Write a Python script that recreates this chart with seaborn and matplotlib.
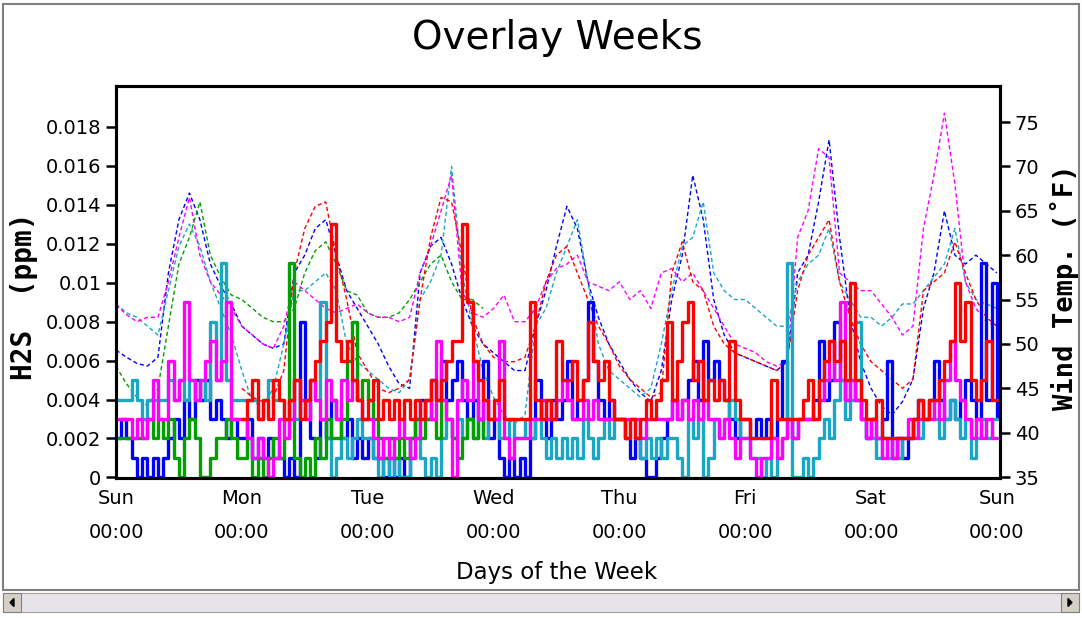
import numpy as np
import pandas as pd
import matplotlib
matplotlib.use("Agg")
import matplotlib.pyplot as plt
import seaborn as sns
from matplotlib.patches import Rectangle, Polygon

# ---- axis labels / ticks ----
day_ticks = [0, 24, 48, 72, 96, 120, 144, 168]
day_labels = ["Sun\n00:00", "Mon\n00:00", "Tue\n00:00", "Wed\n00:00",
              "Thu\n00:00", "Fri\n00:00", "Sat\n00:00", "Sun\n00:00"]
h2s_ticks = [0, 0.002, 0.004, 0.006, 0.008, 0.01, 0.012, 0.014, 0.016, 0.018]
h2s_labels = ["0", "0.002", "0.004", "0.006", "0.008", "0.01", "0.012",
              "0.014", "0.016", "0.018"]
temp_ticks = [35, 40, 45, 50, 55, 60, 65, 70, 75]

# ---- H2S, hourly, in thousandths of ppm ----
h2s_blue = [2, 3, 2, 1, 0, 1, 0, 1, 0, 1, 2, 3, 2, 4, 3, 5, 4, 5, 3, 4, 3, 2, 3, 2,
            2, 3, 1, 2, 1, 2, 1, 1, 0, 1, 0, 8, 4, 2, 1, 3, 2, 4, 3, 2, 3, 1, 2, 1,
            2, 1, 1, 0, 1, 0, 1, 0, 2, 3, 4, 3, 5, 4, 6, 4, 5, 6, 4, 3, 4, 3, 6, 2,
            3, 1, 0, 1, 0, 1, 0, 2, 5, 3, 2, 4, 3, 4, 6, 3, 4, 5, 9, 6, 4, 3, 4, 3,
            3, 2, 1, 2, 1, 0, 0, 1, 2, 3, 4, 3, 4, 5, 6, 4, 7, 5, 6, 5, 4, 3, 2, 3,
            3, 2, 3, 2, 3, 2, 3, 6, 3, 2, 3, 3, 3, 4, 7, 4, 5, 8, 5, 4, 5, 4, 3, 2,
            3, 2, 3, 6, 1, 2, 1, 2, 3, 4, 3, 4, 6, 4, 3, 4, 3, 4, 5, 4, 3, 11, 4, 10,
            3]
h2s_cyan = [4, 4, 4, 5, 4, 3, 4, 4, 4, 4, 5, 4, 5, 4, 5, 4, 5, 4, 8, 5, 11, 5, 4, 4,
            4, 4, 4, 3, 4, 5, 4, 4, 3, 4, 3, 4, 3, 5, 4, 9, 2, 0, 1, 2, 1, 2, 3, 2,
            2, 1, 0, 1, 0, 1, 0, 0, 1, 2, 1, 0, 1, 0, 2, 3, 2, 3, 2, 3, 2, 3, 2, 3,
            3, 2, 2, 3, 2, 2, 3, 2, 3, 2, 1, 2, 1, 2, 1, 2, 1, 3, 2, 1, 2, 3, 2, 3,
            3, 2, 3, 2, 1, 2, 1, 2, 1, 2, 2, 1, 0, 3, 2, 3, 0, 1, 3, 2, 3, 4, 3, 2,
            2, 1, 1, 0, 1, 0, 1, 2, 11, 0, 0, 1, 0, 1, 2, 3, 2, 4, 5, 3, 4, 8, 3, 2,
            2, 1, 2, 1, 2, 1, 2, 2, 3, 2, 3, 4, 3, 2, 3, 4, 3, 2, 3, 1, 2, 3, 2, 3,
            3]
h2s_green = [2, 2, 2, 2, 2, 2, 3, 2, 3, 2, 3, 1, 0, 2, 3, 2, 0, 0, 1, 2, 2, 3, 2, 1,
             1, 2, 0, 1, 0, 1, 2, 1, 2, 11, 1, 0, 1, 0, 2, 1, 3, 2, 2, 3, 6, 8, 4, 5,
             4, 3, 2, 1, 2, 1, 2, 1, 2, 3, 2, 3, 3, 2, 4, 3, 2, 1, 2, 3, 2, 3, 2]
h2s_magenta = [3, 3, 3, 2, 3, 2, 3, 5, 3, 3, 6, 4, 5, 9, 5, 4, 5, 6, 7, 5, 6, 9, 3, 3,
               3, 2, 1, 2, 1, 0, 1, 3, 2, 3, 5, 4, 3, 5, 4, 3, 5, 4, 3, 5, 4, 5, 4, 3,
               3, 2, 1, 2, 1, 2, 3, 2, 1, 2, 3, 4, 3, 7, 4, 3, 0, 4, 5, 4, 6, 3, 4, 3,
               3, 7, 2, 1, 2, 2, 2, 3, 3, 4, 3, 3, 4, 5, 4, 3, 3, 4, 3, 4, 3, 3, 3, 3,
               3, 3, 3, 3, 2, 3, 3, 3, 3, 3, 4, 3, 4, 3, 4, 3, 4, 3, 3, 2, 3, 2, 1, 2,
               2, 1, 0, 1, 1, 2, 1, 2, 3, 2, 3, 3, 3, 3, 4, 5, 7, 5, 9, 4, 5, 4, 3, 2,
               3, 2, 1, 2, 1, 2, 2, 3, 2, 3, 3, 3, 4, 3, 5, 7, 5, 4, 3, 2, 3, 2, 3, 2,
               2]
h2s_red = [3, 4, 5, 3, 4, 3, 5, 4, 3, 4, 5, 3, 4, 5, 6, 7, 8, 13, 7, 6, 7, 5, 4, 3,
           4, 5, 3, 4, 3, 4, 3, 4, 3, 4, 3, 4, 5, 4, 5, 6, 7, 7, 13, 9, 6, 5, 4, 3,
           4, 5, 3, 3, 3, 3, 3, 9, 4, 3, 4, 3, 7, 5, 5, 6, 4, 5, 8, 6, 5, 6, 4, 3,
           3, 2, 3, 2, 3, 4, 3, 4, 5, 8, 4, 6, 8, 9, 5, 6, 4, 5, 4, 5, 4, 7, 4, 3,
           3, 2, 2, 2, 2, 5, 3, 3, 3, 3, 3, 4, 5, 3, 5, 6, 7, 6, 7, 5, 10, 5, 4, 3,
           3, 4, 2, 2, 2, 2, 2, 2, 3, 4, 3, 4, 4, 5, 6, 7, 10, 7, 9, 5, 4, 5, 7, 4,
           4]

# ---- wind temperature (F), every 2 hours ----
temp_blue = [49.3, 48.5, 47.8, 47.5, 48.5, 58, 64, 67, 64, 59, 56.5, 54.5,
             52, 51, 50, 49.5, 50, 58, 60, 63, 64, 60, 56, 54,
             52, 50, 47.5, 45.5, 45, 58, 61, 62, 59, 55, 52, 50,
             49, 48, 47, 47, 52, 56, 61, 65.5, 63, 57, 53, 50,
             48, 46, 44.5, 43.5, 47, 55, 60, 69, 64, 55, 51, 49,
             48.5, 48, 47.5, 47, 48, 58, 60, 66, 73, 62, 53, 48,
             45, 43, 42, 43.5, 46, 54, 58, 65, 60, 59, 60, 59,
             58]
temp_cyan = [54.5, 53.5, 53, 52, 51, 56, 61, 63.5, 61, 57, 54, 51,
             47, 43.5, 43, 45, 50, 56, 56, 57, 58, 56, 50, 48,
             47, 46, 45, 44.5, 46, 55, 57, 60, 70, 58, 52, 47,
             44, 42, 41, 42, 52, 54, 58, 61, 64, 57, 50, 47,
             46, 45, 44, 45, 50, 56, 61, 62, 66, 58, 56, 55,
             55, 54, 53, 52, 52, 57, 59, 60, 63, 57, 55, 53,
             53, 52, 53, 54.5, 54.5, 56, 57.5, 59, 63, 57, 55, 54.5,
             54]
temp_green = [47.5, 45.5, 44, 43, 45, 52, 59, 62, 66, 60, 57.5, 55.5,
              55, 54, 53, 52.5, 52.5, 54, 58, 60.5, 61.5, 59, 56, 55.5,
              53.5, 53, 53, 53.5, 55, 57, 59, 60, 57, 55, 55, 54]
temp_magenta = [54.4, 53.3, 52.5, 53, 53, 57, 62, 66.5, 60, 57, 55.5, 54,
                52, 51, 50, 49.5, 52, 57, 56, 55, 54, 53.5, 54, 54.5,
                53.5, 53, 53, 52.5, 53, 58, 61, 65, 69, 56, 53.5, 53,
                54, 55.5, 52.5, 52.5, 54, 57, 58.5, 59, 60, 57, 56.5, 56,
                57, 55, 56, 54, 58, 58.5, 57, 58, 56, 54, 52, 50,
                49.5, 49, 48, 47.5, 48, 62, 65, 72, 71, 58, 57, 56,
                56, 54.5, 53, 51, 52, 63, 69, 76, 68, 57, 54, 52.5,
                52]
temp_red = [45, 44, 43.5, 44, 47, 58, 63, 65.5, 66, 60, 55, 49,
            47, 45, 44.5, 45, 46, 55, 62, 66.5, 66, 60, 53, 50,
            48.5, 48, 48, 48.5, 52, 57, 60, 61, 58, 55, 52, 50,
            47.5, 46, 45, 44, 44.5, 58, 61.5, 57, 56, 52, 50, 49,
            48.5, 48, 47.5, 47, 48, 56, 60, 62, 64, 57, 53, 50,
            48, 47, 46, 45, 46, 56, 57, 58, 61.5, 58, 55, 53,
            52]

colors = {"blue": "#0000ff", "cyan": "#1aa7c4", "green": "#00a000",
          "magenta": "#ff00ff", "red": "#ff0000"}

h2s_series = [("blue", 0, h2s_blue), ("cyan", 0, h2s_cyan), ("green", 0, h2s_green),
              ("magenta", 0, h2s_magenta), ("red", 24, h2s_red)]
temp_series = [("blue", 0, temp_blue), ("cyan", 0, temp_cyan), ("green", 0, temp_green),
               ("magenta", 0, temp_magenta), ("red", 24, temp_red)]

sns.set_style("white")
plt.rcParams["font.family"] = ["DejaVu Sans"]
plt.rcParams["text.color"] = "black"

fig = plt.figure(figsize=(10.82, 6.18), dpi=100)
ax = fig.add_axes([116 / 1082, 140 / 618, 884 / 1082, 392 / 618])
ax2 = ax.twinx()

# dashed temperature lines (right axis, drawn underneath)
for name, start, vals in temp_series:
    hrs = np.arange(len(vals)) * 2 + start
    sns.lineplot(x=hrs, y=vals, ax=ax2, color=colors[name], lw=1.0,
                 linestyle=(0, (3, 2)))

# H2S step lines (left axis)
for name, start, vals in h2s_series:
    hrs = np.arange(len(vals)) + start
    sns.lineplot(x=hrs, y=np.array(vals) * 0.001, ax=ax, color=colors[name],
                 lw=2.4, drawstyle="steps-post")

ax.set_zorder(ax2.get_zorder() + 1)
ax.patch.set_visible(False)

ax.set_xlim(0, 168.6)
ax.set_ylim(-0.00003, 0.0201)
ax2.set_ylim(34.89, 79.06)

ax.set_xticks(day_ticks)
ax.set_xticklabels(day_labels, linespacing=2.0)
ax.set_yticks(h2s_ticks)
ax.set_yticklabels(h2s_labels)
ax2.set_yticks(temp_ticks)

for a in (ax, ax2):
    for sp in a.spines.values():
        sp.set_linewidth(2.2)
        sp.set_color("black")
    a.tick_params(direction="out", length=7, width=1.8, labelsize=14, colors="black")
ax.tick_params(axis="x", pad=1)
ax.set_xlabel("")
ax.set_ylabel("")
ax2.set_ylabel("")

fig.text(557 / 1082, 1 - 38 / 618, "Overlay Weeks", ha="center", va="center",
         fontsize=28)
fig.text(557 / 1082, 1 - 572 / 618, "Days of the Week", ha="center", va="center",
         fontsize=16.5)
fig.text(24 / 1082, 1 - 296 / 618, "H2S  (ppm)", rotation=90, ha="center",
         va="center", fontsize=20, fontweight="bold", family="DejaVu Sans Mono")
fig.text(1064 / 1082, 1 - 287 / 618, "Wind Temp. (˚F)", rotation=90, ha="center",
         va="center", fontsize=19.5, fontweight="bold", family="DejaVu Sans Mono")

# window frame and scrollbar
W, H = 1082, 618
fig.patches.append(Rectangle((3 / W, (H - 590) / H), 1076 / W, 586 / H,
                             transform=fig.transFigure, fill=False,
                             edgecolor="#808080", lw=1.5))
fig.patches.append(Rectangle((3 / W, (H - 612) / H), 1076 / W, 19 / H,
                             transform=fig.transFigure, facecolor="#e6e3ea",
                             edgecolor="#a0a0a0", lw=0.8))
for bx in (3, 1061):
    fig.patches.append(Rectangle((bx / W, (H - 612) / H), 18 / W, 19 / H,
                                 transform=fig.transFigure, facecolor="#d4d0c8",
                                 edgecolor="#808080", lw=0.8))
fig.patches.append(Polygon([(10 / W, (H - 602.5) / H), (14 / W, (H - 598.5) / H),
                            (14 / W, (H - 606.5) / H)], closed=True,
                           transform=fig.transFigure, color="black"))
fig.patches.append(Polygon([(1072 / W, (H - 602.5) / H), (1068 / W, (H - 598.5) / H),
                            (1068 / W, (H - 606.5) / H)], closed=True,
                           transform=fig.transFigure, color="black"))

fig.savefig("out.png", dpi=100)
